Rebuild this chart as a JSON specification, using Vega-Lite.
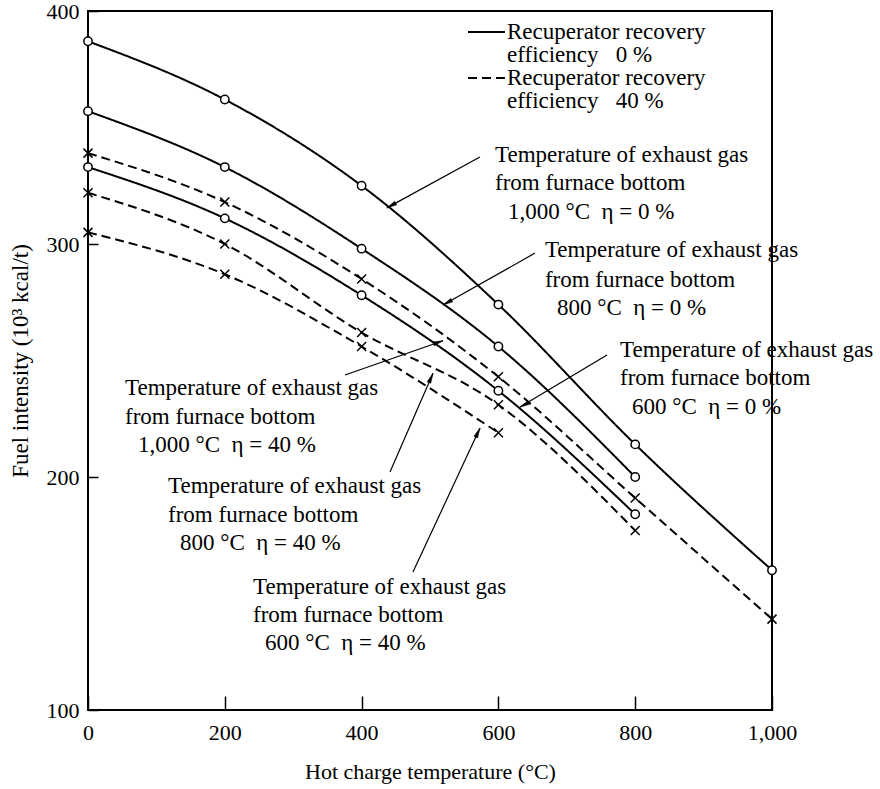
{
  "$schema": "https://vega.github.io/schema/vega-lite/v6.json",
  "width": 684,
  "height": 699,
  "autosize": {"type": "none"},
  "padding": {"left": 88, "top": 11, "right": 108, "bottom": 79},
  "background": "white",
  "config": {
    "view": {"stroke": "black", "strokeWidth": 2},
    "font": "Liberation Serif",
    "axis": {
      "domain": false,
      "grid": false,
      "tickColor": "black",
      "tickWidth": 1.5,
      "labelFont": "Liberation Serif",
      "labelFontSize": 22,
      "labelColor": "black",
      "labelFlush": false,
      "labelOverlap": false,
      "titleFont": "Liberation Serif",
      "titleFontSize": 22,
      "titleFontWeight": "normal",
      "titleColor": "black"
    }
  },
  "datasets": {
    "curves": [
      {"series": "1000-0", "eta": "0 %", "temp": 0, "fuel": 387},
      {"series": "1000-0", "eta": "0 %", "temp": 200, "fuel": 362},
      {"series": "1000-0", "eta": "0 %", "temp": 400, "fuel": 325},
      {"series": "1000-0", "eta": "0 %", "temp": 600, "fuel": 274},
      {"series": "1000-0", "eta": "0 %", "temp": 800, "fuel": 214},
      {"series": "1000-0", "eta": "0 %", "temp": 1000, "fuel": 160},
      {"series": "800-0", "eta": "0 %", "temp": 0, "fuel": 357},
      {"series": "800-0", "eta": "0 %", "temp": 200, "fuel": 333},
      {"series": "800-0", "eta": "0 %", "temp": 400, "fuel": 298},
      {"series": "800-0", "eta": "0 %", "temp": 600, "fuel": 256},
      {"series": "800-0", "eta": "0 %", "temp": 800, "fuel": 200},
      {"series": "600-0", "eta": "0 %", "temp": 0, "fuel": 333},
      {"series": "600-0", "eta": "0 %", "temp": 200, "fuel": 311},
      {"series": "600-0", "eta": "0 %", "temp": 400, "fuel": 278},
      {"series": "600-0", "eta": "0 %", "temp": 600, "fuel": 237},
      {"series": "600-0", "eta": "0 %", "temp": 800, "fuel": 184},
      {"series": "1000-40", "eta": "40 %", "temp": 0, "fuel": 339},
      {"series": "1000-40", "eta": "40 %", "temp": 200, "fuel": 318},
      {"series": "1000-40", "eta": "40 %", "temp": 400, "fuel": 285},
      {"series": "1000-40", "eta": "40 %", "temp": 600, "fuel": 243},
      {"series": "1000-40", "eta": "40 %", "temp": 800, "fuel": 191},
      {"series": "1000-40", "eta": "40 %", "temp": 1000, "fuel": 139},
      {"series": "800-40", "eta": "40 %", "temp": 0, "fuel": 322},
      {"series": "800-40", "eta": "40 %", "temp": 200, "fuel": 300},
      {"series": "800-40", "eta": "40 %", "temp": 400, "fuel": 262},
      {"series": "800-40", "eta": "40 %", "temp": 600, "fuel": 231},
      {"series": "800-40", "eta": "40 %", "temp": 800, "fuel": 177},
      {"series": "600-40", "eta": "40 %", "temp": 0, "fuel": 305},
      {"series": "600-40", "eta": "40 %", "temp": 200, "fuel": 287},
      {"series": "600-40", "eta": "40 %", "temp": 400, "fuel": 256},
      {"series": "600-40", "eta": "40 %", "temp": 600, "fuel": 219}
    ],
    "arrows": [
      {"temp": 573, "fuel": 337.3, "temp2": 437, "fuel2": 315.5, "angle": 241.3},
      {"temp": 653.5, "fuel": 296.1, "temp2": 519, "fuel2": 273.8, "angle": 240.5},
      {"temp": 758.8, "fuel": 252.4, "temp2": 631.6, "fuel2": 230, "angle": 242.7},
      {"temp": 375.7, "fuel": 243.8, "temp2": 519, "fuel2": 258.5, "angle": 71.4},
      {"temp": 441.5, "fuel": 202.1, "temp2": 504.4, "fuel2": 244.5, "angle": 23.9},
      {"temp": 475.1, "fuel": 159.2, "temp2": 573.1, "fuel2": 221, "angle": 25.3}
    ],
    "labels": [
      {"temp": 595, "fuel": 338.2, "text": "Temperature of exhaust gas"},
      {"temp": 595, "fuel": 326.2, "text": "from furnace bottom"},
      {"temp": 614, "fuel": 313.7, "text": "1,000 °C\u00a0\u00a0η = 0 %"},
      {"temp": 668, "fuel": 297.4, "text": "Temperature of exhaust gas"},
      {"temp": 668, "fuel": 284.5, "text": "from furnace bottom"},
      {"temp": 685.7, "fuel": 272.5, "text": "800 °C\u00a0\u00a0η = 0 %"},
      {"temp": 777.8, "fuel": 254.5, "text": "Temperature of exhaust gas"},
      {"temp": 777.8, "fuel": 242.5, "text": "from furnace bottom"},
      {"temp": 795.3, "fuel": 230, "text": "600 °C\u00a0\u00a0η = 0 %"},
      {"temp": 54.1, "fuel": 238.2, "text": "Temperature of exhaust gas"},
      {"temp": 54.1, "fuel": 225.8, "text": "from furnace bottom"},
      {"temp": 73.1, "fuel": 213.7, "text": "1,000 °C\u00a0\u00a0η = 40 %"},
      {"temp": 117, "fuel": 196.1, "text": "Temperature of exhaust gas"},
      {"temp": 117, "fuel": 183.7, "text": "from furnace bottom"},
      {"temp": 134.5, "fuel": 171.7, "text": "800 °C\u00a0\u00a0η = 40 %"},
      {"temp": 241.2, "fuel": 152.8, "text": "Temperature of exhaust gas"},
      {"temp": 241.2, "fuel": 140.8, "text": "from furnace bottom"},
      {"temp": 258.8, "fuel": 128.8, "text": "600 °C\u00a0\u00a0η = 40 %"},
      {"temp": 612.6, "fuel": 391, "text": "Recuperator recovery"},
      {"temp": 612.6, "fuel": 381.1, "text": "efficiency\u00a0\u00a0\u00a00 %"},
      {"temp": 612.6, "fuel": 371.2, "text": "Recuperator recovery"},
      {"temp": 612.6, "fuel": 361.4, "text": "efficiency\u00a0\u00a0\u00a040 %"}
    ],
    "legendLines": [
      {"eta": "0 %", "temp": 555.6, "temp2": 609.6, "fuel": 391},
      {"eta": "40 %", "temp": 555.6, "temp2": 609.6, "fuel": 371.2}
    ]
  },
  "layer": [
    {
      "data": {"name": "curves"},
      "mark": {"type": "line", "interpolate": "monotone", "color": "black", "strokeWidth": 2},
      "encoding": {
        "x": {
          "field": "temp", "type": "quantitative",
          "scale": {"domain": [0, 1000], "nice": false},
          "axis": {"values": [0, 200, 400, 600, 800, 1000], "labelExpr": "datum.value == 1000 ? '1,000' : '' + datum.value", "tickSize": -14, "labelPadding": 26, "title": "Hot charge temperature (°C)", "titlePadding": 18}
        },
        "y": {
          "field": "fuel", "type": "quantitative",
          "scale": {"domain": [100, 400], "nice": false, "zero": false},
          "axis": {"values": [100, 200, 300, 400], "labelExpr": "'' + datum.value", "tickSize": -10, "labelPadding": 19, "title": "Fuel intensity (10³ kcal/t)", "titleFontSize": 23, "titlePadding": 14}
        },
        "detail": {"field": "series"},
        "strokeDash": {"field": "eta", "type": "nominal", "scale": {"domain": ["0 %", "40 %"], "range": [[1, 0], [9, 5]]}, "legend": null}
      }
    },
    {
      "data": {"name": "curves"},
      "transform": [{"filter": "datum.eta == '0 %'"}],
      "mark": {"type": "point", "shape": "circle", "filled": true, "fill": "white", "stroke": "black", "strokeWidth": 1.5, "size": 70, "opacity": 1},
      "encoding": {
        "x": {"field": "temp", "type": "quantitative"},
        "y": {"field": "fuel", "type": "quantitative"}
      }
    },
    {
      "data": {"name": "curves"},
      "transform": [{"filter": "datum.eta == '40 %'"}],
      "mark": {"type": "point", "shape": "M-1,-1L1,1M1,-1L-1,1", "filled": false, "stroke": "black", "strokeWidth": 1.5, "size": 81, "opacity": 1},
      "encoding": {
        "x": {"field": "temp", "type": "quantitative"},
        "y": {"field": "fuel", "type": "quantitative"}
      }
    },
    {
      "data": {"name": "arrows"},
      "mark": {"type": "rule", "color": "black", "strokeWidth": 1.2},
      "encoding": {
        "x": {"field": "temp", "type": "quantitative"},
        "y": {"field": "fuel", "type": "quantitative"},
        "x2": {"field": "temp2"},
        "y2": {"field": "fuel2"}
      }
    },
    {
      "data": {"name": "arrows"},
      "mark": {"type": "point", "shape": "M0,0L0.5,2.5L-0.5,2.5Z", "filled": true, "fill": "black", "stroke": "black", "strokeWidth": 0.5, "size": 64, "opacity": 1},
      "encoding": {
        "x": {"field": "temp2", "type": "quantitative"},
        "y": {"field": "fuel2", "type": "quantitative"},
        "angle": {"field": "angle", "type": "quantitative", "scale": null}
      }
    },
    {
      "data": {"name": "legendLines"},
      "mark": {"type": "rule", "color": "black", "strokeWidth": 2},
      "encoding": {
        "x": {"field": "temp", "type": "quantitative"},
        "x2": {"field": "temp2"},
        "y": {"field": "fuel", "type": "quantitative"},
        "strokeDash": {"field": "eta", "type": "nominal", "scale": {"domain": ["0 %", "40 %"], "range": [[1, 0], [6, 4]]}, "legend": null}
      }
    },
    {
      "data": {"name": "labels"},
      "mark": {"type": "text", "align": "left", "baseline": "middle", "font": "Liberation Serif", "fontSize": 23, "color": "black"},
      "encoding": {
        "x": {"field": "temp", "type": "quantitative"},
        "y": {"field": "fuel", "type": "quantitative"},
        "text": {"field": "text"}
      }
    }
  ]
}
